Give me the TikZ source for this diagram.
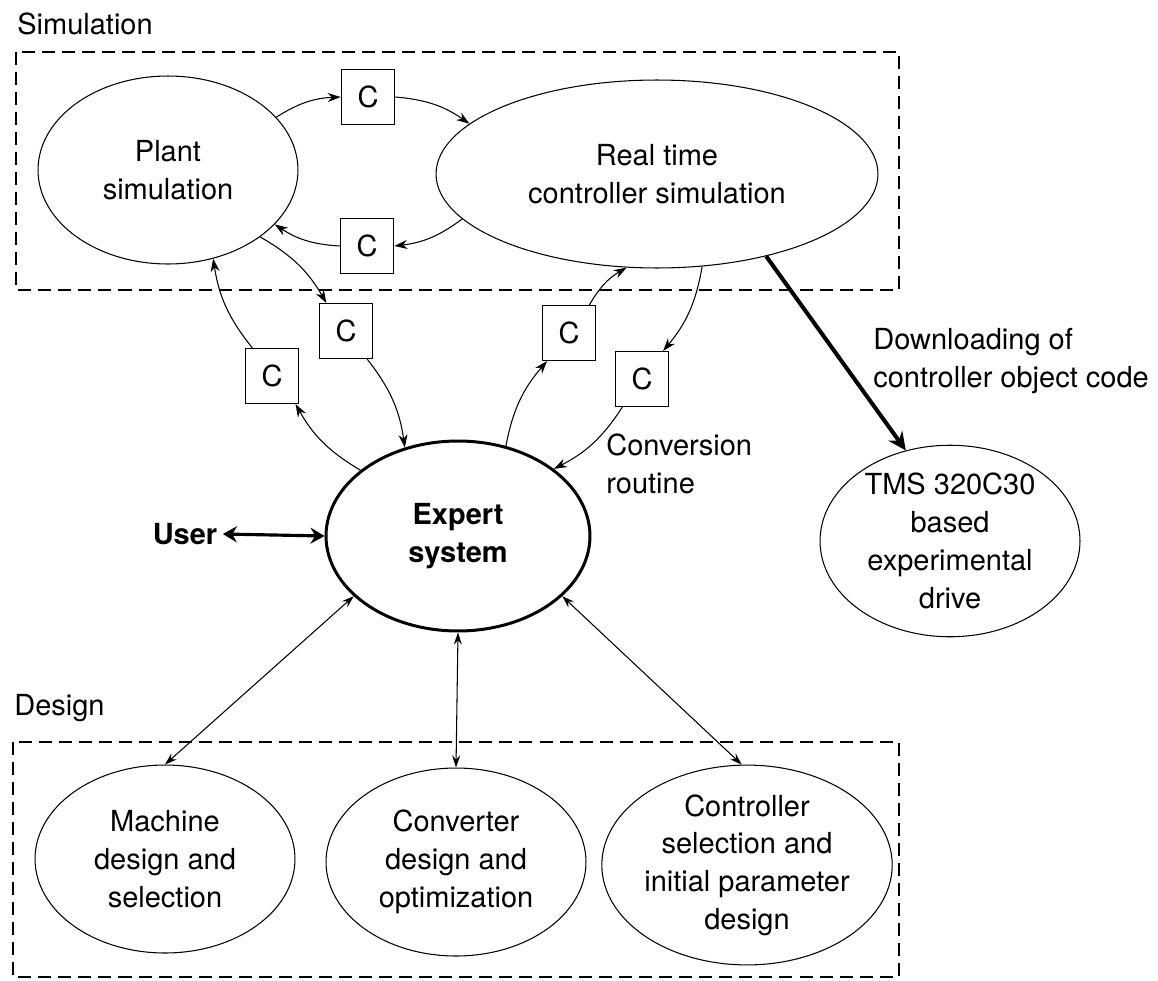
\documentclass[tikz,border=0pt]{standalone}
\usepackage{fontspec}
\setmainfont{TeX Gyre Heros}
\usetikzlibrary{shapes.geometric, arrows.meta, positioning}

\begin{document}
\begin{tikzpicture}[x=0.02cm, y=-0.02cm,
    font=\fontsize{16.5}{21.5}\selectfont,
    proc/.style={ellipse, draw, line width=0.6pt, inner sep=0pt, align=center,
        minimum width=5.2cm, minimum height=3.76cm},
    cbox/.style={draw, line width=0.6pt, inner sep=0pt, minimum width=1.07cm, minimum height=1.1cm},
    link/.style={-{Stealth[length=2.6mm, width=1.8mm]}, line width=0.6pt, bend left=15},
    both/.style={{Stealth[length=2.4mm, width=1.6mm]}-{Stealth[length=2.4mm, width=1.6mm]}, line width=0.6pt},
    frame/.style={draw, line width=0.6pt, dash pattern=on 7.4pt off 4pt}]

    \useasboundingbox (0,0) rectangle (1158,980);

    % Simulation part
    \node[anchor=base west, inner sep=0pt] (simlabel) at (17,35) {Simulation};
    \draw[frame] (16,52) rectangle (899,290);
    \node[proc] (plant) at (168,170) {Plant\\simulation};
    \node[proc, minimum width=8.84cm] (rtc) at (657,174) {Real time\\controller simulation};
    \node[cbox] (ctop) at (368,97) {C};
    \node[cbox] (cbot) at (367,246) {C};

    % Expert system and user
    \node[proc, line width=1.7pt, minimum width=5.28cm, minimum height=3.8cm,
        font=\fontsize{16.5}{21.5}\selectfont\bfseries] (expert) at (458,536) {Expert\\system};
    \node[font=\fontsize{16.5}{21.5}\selectfont\bfseries, inner sep=0pt] (user) at (185,534) {User};

    % Conversion routines
    \node[cbox] (c1) at (272,376) {C};
    \node[cbox] (c2) at (346,331) {C};
    \node[cbox] (c3) at (569,333) {C};
    \node[cbox] (c4) at (642,379) {C};
    \node[anchor=west, align=left, inner sep=0pt] (convlabel) at (606,464) {Conversion\\routine};

    % Experimental drive
    \node[anchor=west, align=left, inner sep=0pt] (dllabel) at (873,361) {Downloading of\\controller object code};
    \node[proc] (tms) at (950,541) {TMS 320C30\\based\\experimental\\drive};

    % Design part
    \node[anchor=base west, inner sep=0pt] (deslabel) at (14,715) {Design};
    \draw[frame] (13,742) rectangle (899,977);
    \node[proc] (machine) at (165,859) {Machine\\design and\\selection};
    \node[proc] (converter) at (456,862) {Converter\\design and\\optimization};
    \node[proc] (ctrlsel) at (747,865) {Controller\\selection and\\initial parameter\\design};

    % Links in the simulation loop
    \draw[link] (plant.26) to (ctop.west);
    \draw[link] (ctop.east) to (rtc.165);
    \draw[link] (rtc.193) to (cbot.east);
    \draw[link] (cbot.west) to (plant.-27);

    % Links through the expert system
    \draw[link] (expert.146) to (c1.-50);
    \draw[link] (c1.125) to (plant.-63);
    \draw[link] (plant.-36) to (c2.125);
    \draw[link] (c2.-53) to (expert.121);
    \draw[link] (expert.62) to (c3.-128);
    \draw[link] (c3.54) to (rtc.-108);
    \draw[link] (rtc.-64) to (c4.53);
    \draw[link] (c4.-125) to (expert.35);

    \draw[line width=2.3pt, -{Stealth[length=3.6mm, width=3.4mm]}] (rtc.-37) -- (tms.116);
    \draw[line width=1.8pt, {Stealth[length=2.8mm, width=3.2mm]}-{Stealth[length=2.8mm, width=3.2mm]}]
        ([xshift=3pt]user.east) -- (expert.west);

    % Links to the design part
    \draw[both] (expert.-150) -- (machine.north);
    \draw[both] (expert.south) -- (converter.north);
    \draw[both] (expert.-30) -- (ctrlsel.93);
\end{tikzpicture}
\end{document}
